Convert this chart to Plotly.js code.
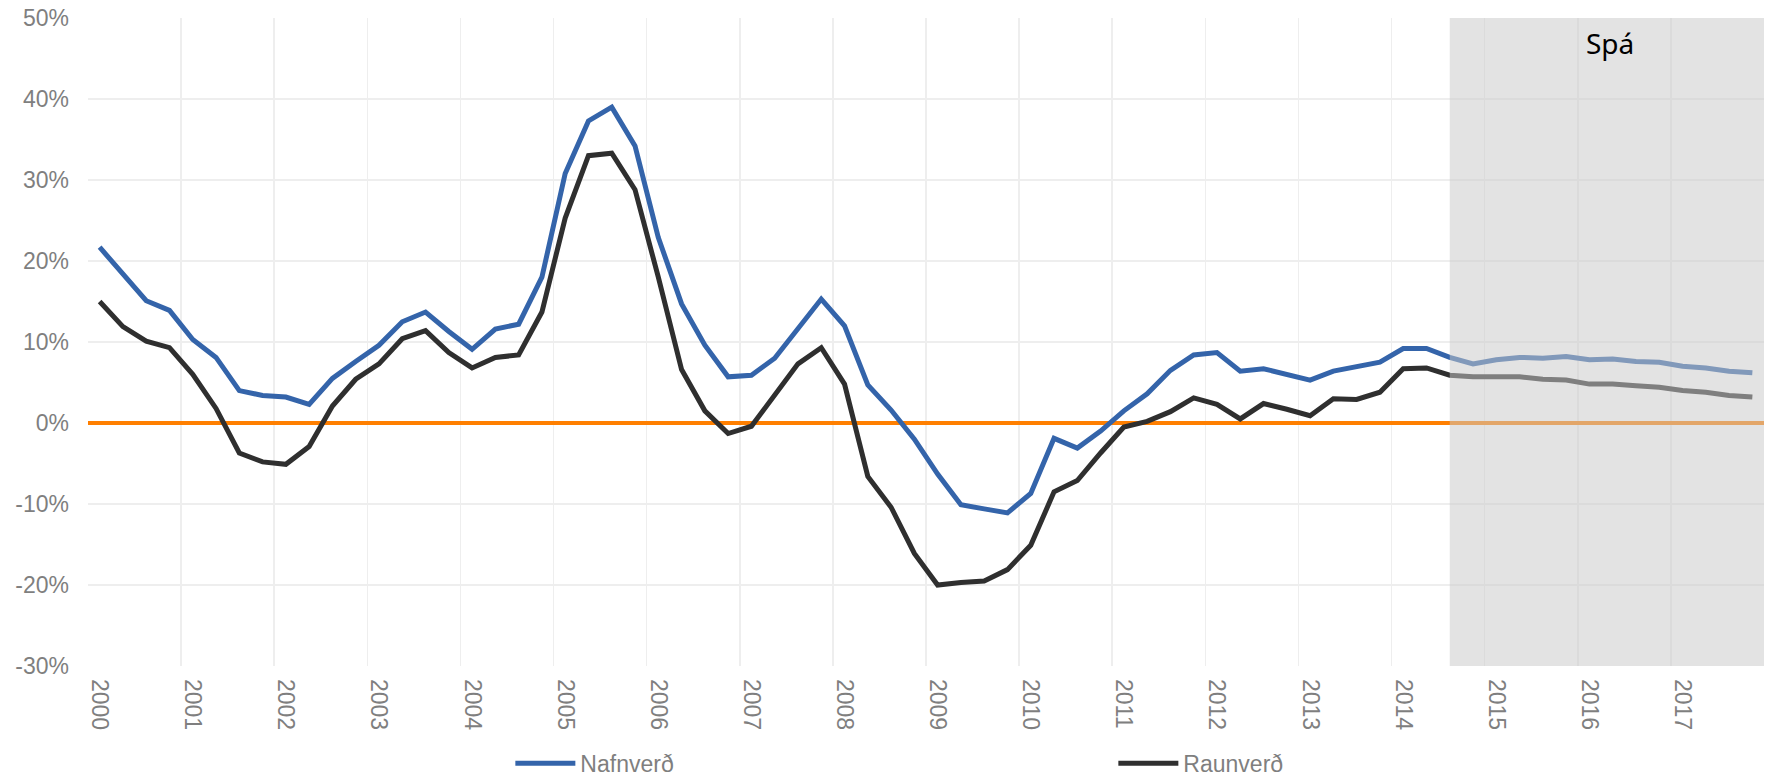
<!DOCTYPE html>
<html>
<head>
<meta charset="utf-8">
<script src="https://cdn.plot.ly/plotly-3.0.1.min.js"></script>
<style>html,body{margin:0;padding:0;background:#fff;}#chart{width:1771px;height:776px;}</style>
</head>
<body>
<div id="chart"></div>
<script>
// ---- data ----
const years = ['2000','2001','2002','2003','2004','2005','2006','2007','2008','2009','2010','2011','2012','2013','2014','2015','2016','2017'];
const quarters = years.flatMap(y => ['Q1','Q2','Q3','Q4'].map(q => y + ' ' + q));
const nafnverd = [21.7, 18.3, 15.1, 13.9, 10.3, 8.1, 4.0, 3.4, 3.2, 2.3,
  5.5, 7.6, 9.6, 12.5, 13.7, 11.3, 9.1, 11.6, 12.2, 18.0,
  30.8, 37.3, 39.0, 34.2, 22.9, 14.7, 9.6, 5.7, 5.9, 8.0,
  11.6, 15.3, 12.0, 4.7, 1.6, -2.0, -6.3, -10.1, -10.6, -11.1,
  -8.7, -1.9, -3.1, -1.0, 1.5, 3.6, 6.5, 8.4, 8.7, 6.4,
  6.7, 6.0, 5.3, 6.4, 6.9, 7.5, 9.2, 9.2, 8.1, 7.3,
  7.8, 8.1, 8.0, 8.2, 7.8, 7.9, 7.6, 7.5, 7.0, 6.8,
  6.4, 6.2];
const raunverd = [15.0, 11.9, 10.1, 9.3, 6.0, 1.8, -3.7, -4.8, -5.1, -2.9,
  2.1, 5.4, 7.3, 10.4, 11.4, 8.7, 6.8, 8.1, 8.4, 13.7,
  25.3, 33.0, 33.3, 28.8, 18.0, 6.6, 1.5, -1.3, -0.4, 3.5,
  7.3, 9.3, 4.8, -6.6, -10.4, -16.1, -20.0, -19.7, -19.5, -18.1,
  -15.1, -8.5, -7.1, -3.7, -0.5, 0.2, 1.4, 3.1, 2.3, 0.5,
  2.4, 1.7, 0.9, 3.0, 2.9, 3.8, 6.7, 6.8, 5.9, 5.7,
  5.7, 5.7, 5.4, 5.3, 4.8, 4.8, 4.6, 4.4, 4.0, 3.8,
  3.4, 3.2];
const forecastStart = '2014 Q3';
const forecastLabel = 'Spá';
const yTickVals = [-30, -20, -10, 0, 10, 20, 30, 40, 50];
const yTickText = ['-30%', '-20%', '-10%', '0%', '10%', '20%', '30%', '40%', '50%'];

// ---- chart ----
const xIdx = quarters.map((q, i) => i);
const fStart = quarters.indexOf(forecastStart);
const yearCenters = years.map((y, i) => i * 4);
const yearBounds = years.map((y, i) => i * 4 - 0.5);

const traces = [
  {x: xIdx, y: nafnverd, text: quarters, name: 'Nafnverð', type: 'scatter', mode: 'lines',
   line: {color: '#3464AA', width: 5}, hovertemplate: '%{text}: %{y}%<extra>Nafnverð</extra>'},
  {x: xIdx, y: raunverd, text: quarters, name: 'Raunverð', type: 'scatter', mode: 'lines',
   line: {color: '#2F2F2F', width: 5}, hovertemplate: '%{text}: %{y}%<extra>Raunverð</extra>'}
];

const layout = {
  width: 1771, height: 776,
  margin: {l: 88, r: 7, t: 18, b: 110, autoexpand: false},
  paper_bgcolor: '#ffffff', plot_bgcolor: '#ffffff',
  font: {family: 'Liberation Sans, Arial, sans-serif', size: 23, color: '#7F7F7F'},
  showlegend: true,
  legend: {orientation: 'h', x: 0.252, xanchor: 'left', y: -0.117, yanchor: 'top',
    font: {size: 23, color: '#7F7F7F'}, itemwidth: 60, entrywidth: 528, entrywidthmode: 'pixels',
    bgcolor: 'rgba(0,0,0,0)', borderwidth: 0, traceorder: 'normal'},
  xaxis: {type: 'linear', range: [-0.5, quarters.length - 0.5], tickmode: 'array',
    tickvals: yearCenters, ticktext: years, tickangle: 90, ticks: '',
    ticklabelstandoff: 12, showgrid: false,
    minor: {tickmode: 'array', tickvals: yearBounds, showgrid: true, gridcolor: '#EEEEEE', gridwidth: 1.5, ticks: ''},
    zeroline: false, showline: false,
    tickfont: {size: 23, color: '#7F7F7F'}, fixedrange: true},
  yaxis: {range: [-30, 50], tickmode: 'array', tickvals: yTickVals, ticktext: yTickText,
    ticks: '', ticklabelstandoff: 18, showgrid: true, gridcolor: '#EEEEEE', gridwidth: 1.5,
    zeroline: true, zerolinecolor: '#FF7F00', zerolinewidth: 4.5, showline: false,
    tickfont: {size: 23, color: '#7F7F7F'}, fixedrange: true},
  shapes: [
    {type: 'rect', layer: 'above', xref: 'x', yref: 'y', x0: fStart, x1: quarters.length - 0.5,
     y0: -30, y1: 50.6, fillcolor: 'rgba(201,201,201,0.52)', line: {width: 0}}
  ],
  annotations: [
    {text: forecastLabel, xref: 'x', yref: 'paper', x: 64.9, y: 0.961, yanchor: 'middle', showarrow: false,
     font: {family: 'Noto Sans, sans-serif', size: 28, color: '#000000'}}
  ]
};

Plotly.newPlot('chart', traces, layout, {displayModeBar: false, staticPlot: true});
</script>
</body>
</html>
